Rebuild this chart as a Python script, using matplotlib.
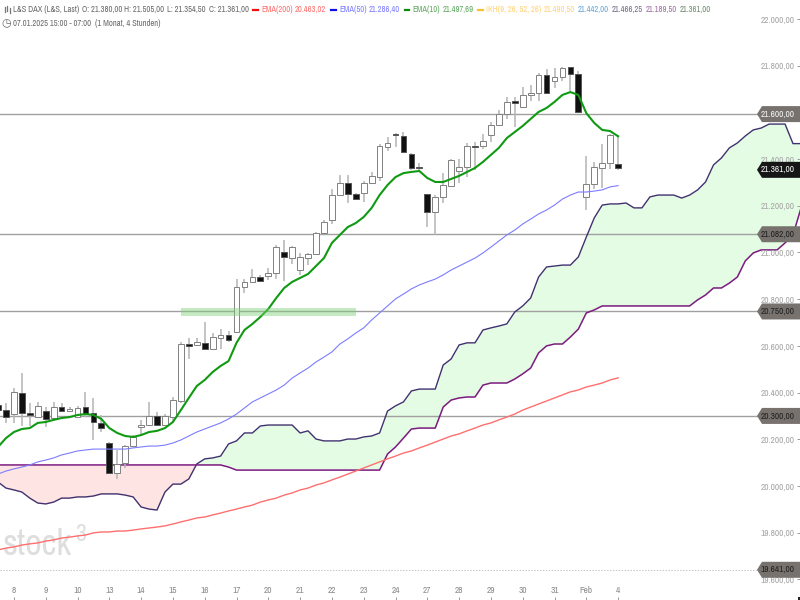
import matplotlib
matplotlib.use("Agg")
import matplotlib.pyplot as plt
from matplotlib.patches import Polygon, Rectangle
from matplotlib.lines import Line2D
from matplotlib.transforms import blended_transform_factory
import numpy as np

opens = [20347,20325,20308,20398,20313,20295,20321,20291,20338,20321,20295,20338,20313,20270,20184,20056,20098,20171,20253,20261,
         20300,20261,20295,20364,20606,20604,20613,20587,20634,20647,20659,20852,20874,20895,20899,20912,21002,20976,20925,20976,
         20994,21083,21139,21246,21298,21251,21255,21298,21323,21452,21507,21499,21422,21366,21251,21173,21238,21285,21349,21366,
         21454,21456,21503,21546,21593,21647,21623,21675,21683,21760,21735,21752,21795,21764,21238,21293,21362,21383,21380]
highs = [20368,20355,20420,20484,20355,20360,20338,20360,20355,20338,20343,20402,20377,20304,20188,20154,20175,20218,20282,20360,
         20317,20308,20381,20617,20634,20634,20702,20655,20672,20664,20886,20886,20929,20904,20934,21032,21053,21028,20998,20998,
         21088,21139,21272,21332,21332,21255,21306,21345,21465,21495,21512,21516,21426,21383,21251,21246,21340,21401,21401,21469,
         21473,21507,21559,21610,21666,21666,21709,21717,21769,21786,21790,21795,21795,21777,21413,21388,21465,21507,21505]
lows = [20317,20270,20270,20257,20257,20293,20253,20287,20317,20317,20291,20295,20197,20231,20054,20030,20077,20167,20218,20261,
        20257,20257,20274,20355,20544,20600,20585,20582,20587,20617,20655,20826,20869,20874,20882,20886,20878,20951,20904,20946,
        20989,21079,21122,21242,21212,21225,21216,21293,21306,21435,21452,21426,21353,21345,21109,21075,21212,21285,21298,21323,
        21353,21443,21473,21542,21572,21538,21623,21649,21649,21679,21705,21735,21683,21602,21182,21272,21276,21357,21354.5]
closes = [20325,20295,20402,20313,20304,20343,20287,20338,20321,20330,20334,20308,20274,20248,20056,20094,20171,20210,20261,20300,
          20261,20300,20368,20608,20600,20617,20587,20638,20647,20625,20852,20874,20895,20878,20912,21023,20981,21023,20981,20994,
          21083,21131,21246,21298,21251,21229,21298,21328,21456,21469,21503,21430,21362,21362,21173,21238,21289,21396,21366,21456,
          21450,21478,21546,21593,21645,21642,21675,21683,21760,21683,21752,21790,21764,21602,21293,21366,21383,21503,21361]

ema10 = [20167,20205,20231,20244,20248,20270,20274,20283,20291,20295,20304,20308,20304,20287,20248,20227,20214,20210,20218,20231,
         20236,20248,20274,20325,20377,20428,20454,20488,20514,20535,20613,20668,20694,20724,20758,20805,20848,20874,20891,20908,
         20942,20976,21041,21075,21109,21126,21152,21191,21246,21289,21323,21340,21345,21349,21319,21302,21302,21315,21328,21345,
         21362,21388,21418,21448,21490,21516,21542,21572,21602,21619,21645,21675,21687,21675,21597,21555,21525,21520,21497.69]
ema50 = [20051,20064,20073,20081,20090,20103,20111,20120,20133,20141,20150,20154,20158,20158,20158,20158,20158,20163,20167,20171,
         20171,20175,20184,20197,20214,20231,20244,20257,20270,20287,20308,20334,20360,20377,20394,20411,20432,20462,20484,20505,
         20531,20552,20574,20608,20630,20655,20677,20711,20741,20771,20801,20822,20844,20861,20874,20886,20904,20925,20942,20959,
         20976,20998,21023,21049,21075,21096,21122,21143,21165,21182,21203,21229,21246,21259,21259,21263,21268,21281,21286.4]
ema200 = [19726,19734,19739,19747,19752,19756,19764,19769,19777,19781,19786,19790,19799,19803,19803,19807,19807,19811,19816,19820,
          19824,19829,19837,19846,19854,19863,19867,19876,19884,19893,19901,19910,19918,19931,19940,19948,19961,19970,19983,19991,
          20004,20013,20026,20038,20051,20064,20077,20090,20103,20116,20128,20141,20150,20163,20175,20188,20201,20214,20223,20236,
          20248,20261,20270,20283,20295,20308,20325,20338,20351,20364,20377,20390,20403,20411,20424,20432,20441,20454,20463.02]
senkou_a = [20017,19991,19983,19974,19948,19927,19923,19931,19948,19948,19953,19953,19957,19966,19966,19966,19961,19953,19910,19901,
            19897,19974,20008,20008,20030,20094,20116,20120,20128,20180,20193,20227,20227,20257,20261,20261,20261,20261,20227,20236,
            20201,20193,20193,20193,20201,20201,20210,20214,20227,20321,20343,20360,20407,20415,20415,20415,20518,20544,20604,20613,
            20613,20668,20677,20685,20694,20745,20771,20805,20895,20938,20942,20946,20946,20981,21066,21148,21203,21208,21208,21212,
            21191,21191,21238,21246,21246,21246,21233,21246,21268,21302,21375,21405,21448,21469,21499,21525,21533,21550,21550,21550,
            21466.25,21466.25]
senkou_b = [20090,20090,20090,20090,20090,20090,20090,20090,20090,20090,20090,20090,20090,20090,20090,20090,20090,20090,20090,20090,
            20090,20090,20090,20090,20090,20090,20090,20090,20090,20081,20068,20068,20068,20068,20068,20068,20068,20068,20068,20068,
            20068,20068,20068,20068,20068,20068,20068,20068,20068,20137,20167,20205,20244,20248,20248,20248,20338,20368,20377,20381,
            20381,20432,20441,20441,20441,20458,20480,20505,20570,20600,20608,20608,20638,20672,20741,20754,20771,20771,20771,20771,
            20771,20771,20771,20771,20771,20771,20771,20771,20797,20818,20848,20848,20869,20895,20964,20998,21011,21011,21011,21041,
            21075,21189.5]

y_ticks = [22000,21800,21600,21400,21200,21000,20800,20600,20400,20200,20000,19800,19600]
y_tick_labels = ["22.000,00","21.800,00","21.600,00","21.400,00","21.200,00","21.000,00","20.800,00","20.600,00",
                 "20.400,00","20.200,00","20.000,00","19.800,00","19.600,00"]
day_labels = ["8","9","10","13","14","15","16","17","20","21","22","23","24","27","28","29","30","31","Feb","4"]
day_positions = list(range(2, 79, 4))

level_values = [21600, 21082, 20750, 20300]
level_labels = ["21.600,00", "21.082,00", "20.750,00", "20.300,00"]
level_text_colors = ["#f4f4f4", "#222222", "#222222", "#222222"]
level_nudge_px = [1.7, 0.9, 0.6, 0.0]
support_value = 19641
support_label = "19.641,00"
last_value = 21361
last_label = "21.361,00"
zone_start, zone_end, zone_low, zone_high = 23.0, 45.0, 20728, 20762

FONT = ["Archivo Narrow", "Liberation Sans"]
plt.rcParams["font.family"] = FONT

fig = plt.figure(figsize=(8, 6), dpi=100, facecolor="white")
ax = fig.add_axes([0, 0, 1, 1])
ax.set_xlim(0.2516, 100.88)
ax.set_ylim(19511.6, 22081.4)
for s in ax.spines.values():
    s.set_visible(False)
ax.set_axisbelow(False)
blend = blended_transform_factory(ax.transAxes, ax.transData)
PX = 4.283  # price units per pixel

ax.yaxis.tick_right()
ax.set_yticks(y_ticks, y_tick_labels)
ax.set_xticks(day_positions, day_labels)
ax.tick_params(axis="y", direction="in", length=2.2, width=0.7, color="#999999", pad=-3.6,
               labelsize=6.7, labelcolor="#a6a6a6")
ax.tick_params(axis="x", direction="in", length=2.2, width=0.7, color="#999999", pad=-3.6,
               labelsize=6.7, labelcolor="#8c8c8c")
for l in ax.yaxis.get_ticklabels():
    l.set_ha("right")
for l in ax.xaxis.get_ticklabels():
    l.set_va("bottom")

# Watermark
ax.text(3 / 800, 1 - 555 / 600, "stock", transform=ax.transAxes, fontsize=26, color="#dedede",
        ha="left", va="baseline", zorder=0.2)
ax.text(75 / 800, 1 - 541 / 600, "3", transform=ax.transAxes, fontsize=17, color="#dedede",
        ha="left", va="baseline", zorder=0.2)

# Cloud
xc = np.arange(len(senkou_a))
a = np.array(senkou_a, float)
b = np.array(senkou_b, float)
ax.fill_between(xc, a, b, where=a >= b, interpolate=True, color="#e4fce4", lw=0, zorder=1)
ax.fill_between(xc, a, b, where=a < b, interpolate=True, color="#ffe4e4", lw=0, zorder=1)
ax.plot(xc, a, color="#40326e", lw=1.0, zorder=2.1)
ax.plot(xc, b, color="#7d1a80", lw=1.1, zorder=2.1)

# Levels
for v, n in zip(level_values, level_nudge_px):
    ax.axhline(v - n * PX, xmin=0, xmax=757 / 800, color="#a0a0a0", lw=1.0, zorder=1.5)
ax.axhline(support_value, xmin=0, xmax=757 / 800, color="#c4c4c4", lw=0.7, ls=(0, (1.5, 1.5)), zorder=1.5)

# Candles
x = np.arange(len(opens))
o, h, l_, c = map(lambda s: np.array(s, float), (opens, highs, lows, closes))
up = c >= o
ax.vlines(x, l_, h, color="#b4b4b4", lw=1.1, zorder=2.2)
ax.bar(x[up], (c - o)[up], bottom=o[up], width=0.72, facecolor="white", edgecolor="#808080", lw=0.7, zorder=2.3)
ax.bar(x[~up], (c - o)[~up], bottom=o[~up], width=0.72, facecolor="#111111", edgecolor="#555555", lw=0.7, zorder=2.3)

# Moving averages
ax.plot(x, ema200, color="#ff6f6f", lw=1.0, zorder=2.4)
ax.plot(x, ema50, color="#7c7cff", lw=0.8, zorder=2.4)
ax.plot(x, ema10, color="#0f9a12", lw=1.5, zorder=2.5)

# Zone
ax.add_patch(Rectangle((zone_start, zone_low), zone_end - zone_start, zone_high - zone_low,
                       facecolor="#7fd27a", edgecolor="none", alpha=0.45, zorder=3))

# Right-hand price tags
half = 8 * PX
def tag(v, txt, fc, tc):
    x0, x1, x2 = 757 / 800, 762 / 800, 1.0
    ax.add_patch(Polygon([(x0, v), (x1, v + half), (x2, v + half), (x2, v - half), (x1, v - half)],
                         closed=True, transform=blend, facecolor=fc, edgecolor="none", zorder=5, clip_on=False))
    ax.text(795 / 800, v, txt, transform=blend, ha="right", va="center", color=tc, fontsize=6.7, zorder=6)

for v, n, t, tc in zip(level_values, level_nudge_px, level_labels, level_text_colors):
    tag(v - n * PX, t, "#77726e", tc)
tag(support_value, support_label, "#77726e", "#222222")
tag(last_value - 7, last_label, "#161616", "#f4f4f4")

# Header text
def hdr(px, py, s, color):
    fig.text(px / 800, 1 - py / 600, s, color=color, fontsize=6.1, ha="left", va="center", zorder=7)

def dash(px0, px1, py, color):
    fig.add_artist(Line2D([px0 / 800, px1 / 800], [1 - py / 600] * 2, color=color, lw=1.6))

for px, s in [(13, "L&S DAX (L&S, Last)"), (82, "O: 21.380,00"), (124, "H: 21.505,00"),
              (167, "L: 21.354,50"), (209, "C: 21.361,00")]:
    hdr(px, 9.5, s, "#6a6a6a")
dash(253, 258, 9.5, "#f01010")
hdr(261, 9.5, "EMA(200)", "#ff7070")
hdr(295, 9.5, "20.463,02", "#ff7070")
dash(331, 336, 9.5, "#1010e0")
hdr(339, 9.5, "EMA(50)", "#7f7fff")
hdr(369, 9.5, "21.286,40", "#7f7fff")
dash(405, 409, 9.5, "#0a8a0a")
hdr(412, 9.5, "EMA(10)", "#62aa62")
hdr(443, 9.5, "21.497,69", "#62aa62")
dash(478, 483, 9.5, "#f8c030")
hdr(486, 9.5, "IKH(9, 26, 52, 26)", "#ffd37a")
hdr(544, 9.5, "21.490,50", "#ffd37a")
hdr(578, 9.5, "21.442,00", "#66a8d4")
hdr(612, 9.5, "21.466,25", "#70708a")
hdr(646, 9.5, "21.189,50", "#a070a0")
hdr(680, 9.5, "21.361,00", "#6e8c6e")
hdr(13, 23, "07.01.2025 15:00 - 07:00", "#6a6a6a")
hdr(95, 23, "(1 Monat, 4 Stunden)", "#6a6a6a")

# Small icons
for px, y0, y1 in [(4.5, 7, 12), (7, 6, 11), (9.5, 8, 13)]:
    fig.add_artist(Line2D([px / 800] * 2, [1 - y0 / 600, 1 - y1 / 600], color="#777777", lw=0.9))
fig.text(6.5 / 800, 1 - 23 / 600, "\u25F7", family="DejaVu Sans", color="#666666", fontsize=8, ha="center", va="center")
fig.add_artist(Rectangle((798 / 800, 0), 2 / 800, 3 / 600, transform=fig.transFigure, facecolor="#222222", edgecolor="none"))

fig.savefig("out.png", dpi=100)
